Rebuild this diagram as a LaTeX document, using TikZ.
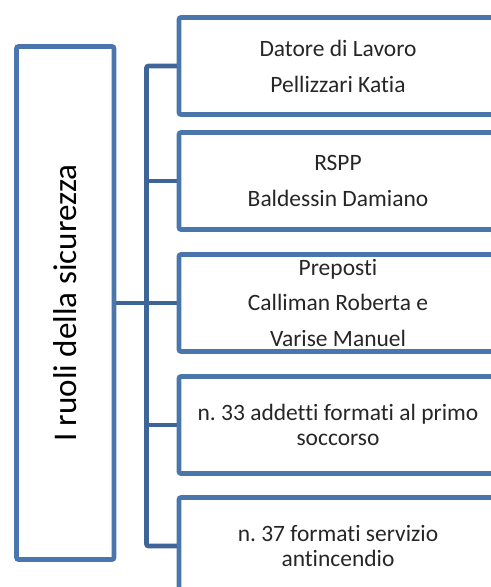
\documentclass[tikz,border=0pt]{standalone}
\usepackage{fontspec}
\setmainfont{Carlito}[Ligatures={NoCommon}]
\frenchspacing
\usetikzlibrary{positioning, calc}
\definecolor{boxblue}{HTML}{4A76AC}
\definecolor{linkblue}{HTML}{3D6598}
\definecolor{txtgray}{HTML}{262626}

\begin{document}
\begin{tikzpicture}[
    x=0.75pt, y=-0.75pt,
    rolebox/.style={rectangle, draw=boxblue, line width=3.5pt, rounded corners=1.5pt, minimum width=238.5pt, minimum height=72.75pt, align=center, text=txtgray, font=\fontsize{17.6}{27}\selectfont},
    tightbox/.style={rolebox, font=\fontsize{17.6}{18.9}\selectfont},
    titlebox/.style={rectangle, draw=boxblue, line width=3.5pt, rounded corners=1.5pt, rotate=90, minimum width=384.75pt, minimum height=73.1pt, text=black, font=\fontsize{24.8}{30}\selectfont},
    link/.style={draw=linkblue, line width=3.5pt, rounded corners=1.5pt}
]
\useasboundingbox (0,0) rectangle (491,587);
\clip (0,0) rectangle (491,587);

% Spine of the bracket
\coordinate (spine) at (146.5,0);

% Connectors
\path (338,66) coordinate (c1) (338,181) coordinate (c2) (338,303) coordinate (c3)
      (338,425) coordinate (c4) (338,546) coordinate (c5);
\draw[link] (179,66) -- (spine |- c1) -- (spine |- c5) -- (179,546);
\foreach \i in {2,3,4}
    \draw[link] (spine |- c\i) -- (179,0 |- c\i);

% Title
\node[titlebox] (title) at (65.25,303) {I ruoli della sicurezza};
\draw[link] (title.south) -- (spine |- c3);

% Role boxes
\node[rolebox] (r1) at (c1) {Datore di Lavoro\\Pellizzari Katia};
\node[rolebox] (r2) at (c2) {RSPP\\Baldessin Damiano};
\node[rolebox, font=\fontsize{17.6}{26.5}\selectfont] (r3) at (c3) {Preposti\\Calliman Roberta e\\Varise Manuel};
\node[tightbox] (r4) at (c4) {n. 33 addetti formati al primo\\soccorso};
\node[tightbox] (r5) at (c5) {n. 37 formati servizio\\antincendio};

\end{tikzpicture}
\end{document}
